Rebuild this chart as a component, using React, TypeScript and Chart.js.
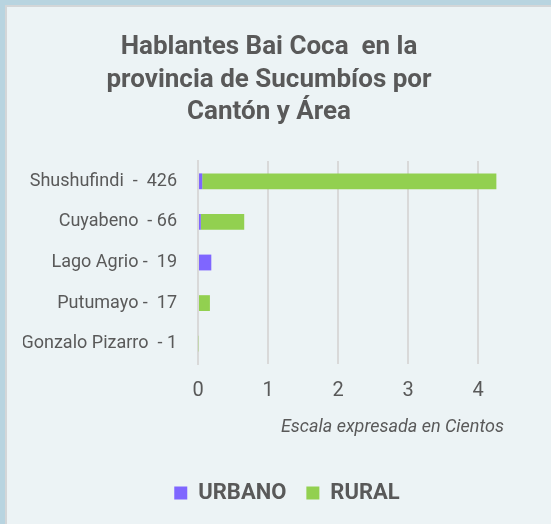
import React, { useEffect, useRef } from "react";
import { Chart, registerables } from "chart.js";

Chart.register(...registerables);

const categories = [
  "Shushufindi  -  426",
  "Cuyabeno  - 66",
  "Lago Agrio -  19",
  "Putumayo -  17",
  "Gonzalo Pizarro  - 1",
];
const urbano = [0.06, 0.04, 0.19, 0, 0];
const rural = [4.2, 0.62, 0, 0.17, 0.01];
const titleLines = ["Hablantes Bai Coca  en la", "provincia de Sucumbíos por", "Cantón y Área"];
const axisTitle = "Escala expresada en Cientos";
const xTicks = [0, 1, 2, 3, 4];

const TEXT = "#595959";
const GRID = "#d9d9d9";

const textPlugin = {
  id: "customText",
  afterDraw(chart: any) {
    const ctx = chart.ctx;
    ctx.save();
    ctx.fillStyle = TEXT;
    ctx.textAlign = "center";
    ctx.textBaseline = "alphabetic";
    ctx.font = "bold 26px Roboto";
    const ys = [54, 87, 119];
    titleLines.forEach((l, i) => ctx.fillText(l, 269, ys[i]));
    ctx.font = "italic 18px Roboto";
    ctx.textAlign = "right";
    ctx.fillText(axisTitle, 504, 432);
    ctx.restore();
  },
};

export default function App() {
  const ref = useRef<HTMLCanvasElement>(null);
  useEffect(() => {
    if (!ref.current) return;
    const chart = new Chart(ref.current, {
      type: "bar",
      data: {
        labels: categories,
        datasets: [
          {
            label: "URBANO",
            data: urbano,
            backgroundColor: "#7f66ff",
            borderWidth: 0,
          },
          {
            label: "RURAL",
            data: rural,
            backgroundColor: "#92d050",
            borderWidth: 0,
          },
        ],
      },
      options: {
        indexAxis: "y",
        animation: false,
        responsive: false,
        maintainAspectRatio: false,
        layout: { padding: { top: 161, left: 23, right: 0, bottom: 10 } },
        datasets: { bar: { categoryPercentage: 1, barPercentage: 0.39 } },
        scales: {
          x: {
            stacked: true,
            min: 0,
            max: 5.04,
            afterBuildTicks: (scale: any) => {
              scale.ticks = xTicks.map((v) => ({ value: v }));
            },
            afterFit: (scale: any) => {
              scale.height = 98;
            },
            grid: { color: GRID, lineWidth: 2, drawTicks: false },
            border: { display: false },
            ticks: {
              color: TEXT,
              font: { family: "Roboto", size: 20 },
              padding: 15,
            },
          },
          y: {
            stacked: true,
            afterFit: (scale: any) => {
              scale.width = 175;
            },
            grid: { display: false, drawTicks: false },
            border: { display: true, color: GRID, width: 2 },
            ticks: {
              color: TEXT,
              font: { family: "Roboto", size: 18 },
              padding: 21,
            },
          },
        },
        plugins: {
          title: { display: false },
          tooltip: { enabled: false },
          legend: {
            position: "bottom",
            labels: {
              color: TEXT,
              font: { family: "Roboto", size: 22, weight: "bold" },
              boxWidth: 13,
              boxHeight: 13,
              padding: 20,
            },
          },
        },
      },
      plugins: [textPlugin],
    });
    return () => chart.destroy();
  }, []);

  return (
    <div
      style={{
        position: "fixed",
        left: 0,
        top: 0,
        width: 551,
        height: 524,
        background: "#b8d4e0",
        overflow: "hidden",
      }}
    >
      <div
        style={{
          position: "absolute",
          left: 5,
          top: 5,
          right: 0,
          bottom: 0,
          borderLeft: "2px solid #d3d6d8",
          borderTop: "2px solid #d3d6d8",
          background: "#ecf3f5",
        }}
      />
      <canvas
        ref={ref}
        width={551}
        height={524}
        style={{ position: "absolute", left: 0, top: 0, width: 551, height: 524 }}
      />
    </div>
  );
}
